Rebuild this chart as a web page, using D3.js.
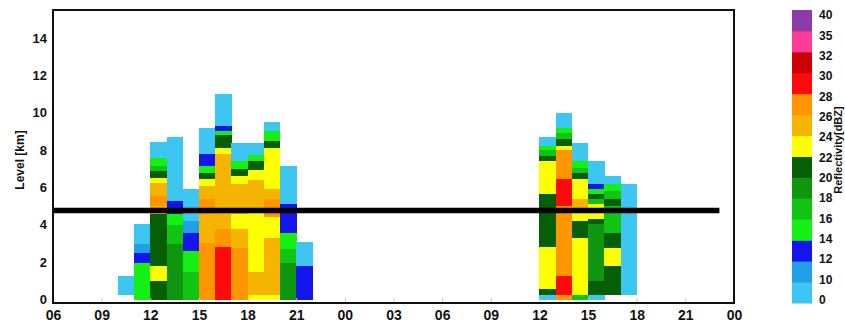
<!DOCTYPE html>
<html>
<head>
<meta charset="utf-8">
<script src="https://cdn.jsdelivr.net/npm/d3@7"></script>
<style>
  html, body { margin: 0; padding: 0; background: #fff; }
  svg { display: block; }
  text { font-family: "Liberation Sans", Arial, sans-serif; }
</style>
</head>
<body>
<svg id="chart" width="845" height="325"></svg>
<script>
// ---------- DATA ----------
// x axis: hours elapsed since 06 UTC of day 1
const xTickHours = [0, 3, 6, 9, 12, 15, 18, 21, 24, 27, 30, 33, 36, 39, 42];
const xTickLabels = ["06", "09", "12", "15", "18", "21", "00", "03", "06", "09", "12", "15", "18", "21", "00"];
const yTicks = [0, 2, 4, 6, 8, 10, 12, 14];

// colour classes of the reflectivity scale (dBZ)
const dbzBounds = [0, 10, 12, 14, 16, 18, 20, 22, 24, 26, 28, 30, 32, 35, 40];
const dbzColors = ["#3ec6f2", "#1f9fe8", "#1414ee", "#14f014", "#12c412", "#0e960e", "#065e06",
                   "#ffff00", "#f5b400", "#ff9600", "#ff0a0a", "#cc0000", "#ff3c96", "#8c3ca8"];

// hourly columns (start hour since 06 UTC day 1)
const day1Hours = [4, 5, 6, 7, 8, 9, 10, 11, 12, 13, 14, 15];
const day2Hours = [30, 31, 32, 33, 34, 35];

// each column: [bottom km, top km, dBZ]
const day1Profiles = [
  [[0.27, 1.24, 5]],
  [[0, 1.94, 15], [1.94, 2.48, 13], [2.48, 3.0, 11], [3.0, 4.05, 5]],
  [[0, 0.97, 21], [0.97, 1.78, 23], [1.78, 4.6, 21], [4.6, 5.0, 25], [5.0, 5.55, 27], [5.55, 6.25, 25],
   [6.25, 6.5, 23], [6.5, 6.9, 21], [6.9, 7.16, 17], [7.16, 7.56, 15], [7.56, 8.45, 5]],
  [[0, 3.0, 19], [3.0, 4.0, 17], [4.0, 4.6, 15], [4.6, 5.3, 13], [5.3, 8.67, 5]],
  [[0, 1.5, 17], [1.5, 2.6, 15], [2.6, 3.55, 13], [3.55, 4.2, 11], [4.2, 5.9, 5]],
  [[0, 3.05, 27], [3.05, 4.6, 25], [4.6, 5.4, 27], [5.4, 6.1, 25], [6.1, 6.45, 23], [6.45, 6.8, 21],
   [6.8, 7.16, 15], [7.16, 7.8, 13], [7.8, 9.2, 5]],
  [[0, 2.8, 29], [2.8, 3.8, 27], [3.8, 7.8, 25], [7.8, 8.1, 23], [8.1, 8.8, 21], [8.8, 9.05, 15],
   [9.05, 9.3, 13], [9.3, 11.0, 5]],
  [[0, 2.75, 27], [2.75, 3.8, 25], [3.8, 4.6, 23], [4.6, 6.2, 25], [6.2, 6.6, 23], [6.6, 7.0, 21],
   [7.0, 7.4, 15], [7.4, 8.4, 5]],
  [[0, 0.27, 23], [0.27, 1.5, 25], [1.5, 4.7, 23], [4.7, 6.4, 25], [6.4, 6.95, 23], [6.95, 7.4, 21],
   [7.4, 7.75, 15], [7.75, 8.4, 5]],
  [[0, 0.27, 23], [0.27, 3.3, 25], [3.3, 4.45, 23], [4.45, 5.4, 27], [5.4, 5.9, 25], [5.9, 8.1, 23],
   [8.1, 8.5, 21], [8.5, 9.05, 15], [9.05, 9.5, 5]],
  [[0, 1.94, 19], [1.94, 2.7, 17], [2.7, 3.55, 15], [3.55, 5.1, 13], [5.1, 7.16, 5]],
  [[0, 1.78, 13], [1.78, 3.05, 5]]
];
const day2Profiles = [
  [[0, 0.27, 5], [0.27, 0.55, 21], [0.55, 2.8, 23], [2.8, 5.65, 21], [5.65, 7.4, 23], [7.4, 7.7, 21],
   [7.7, 8.0, 17], [8.0, 8.25, 15], [8.25, 8.67, 5]],
  [[0, 0.27, 27], [0.27, 1.24, 29], [1.24, 5.0, 27], [5.0, 6.45, 29], [6.45, 8.0, 27], [8.0, 8.25, 23],
   [8.25, 8.6, 21], [8.6, 8.9, 17], [8.9, 9.2, 15], [9.2, 10.0, 5]],
  [[0, 0.27, 17], [0.27, 3.3, 23], [3.3, 4.2, 21], [4.2, 4.9, 23], [4.9, 5.4, 25], [5.4, 6.45, 23],
   [6.45, 6.8, 21], [6.8, 7.05, 17], [7.05, 7.4, 15], [7.4, 8.4, 5]],
  [[0, 0.27, 5], [0.27, 0.97, 21], [0.97, 4.04, 19], [4.04, 4.3, 21], [4.3, 5.1, 23], [5.1, 5.4, 17],
   [5.4, 5.65, 21], [5.65, 5.9, 15], [5.9, 6.2, 13], [6.2, 7.4, 5]],
  [[0.27, 1.78, 21], [1.78, 2.75, 23], [2.75, 3.55, 21], [3.55, 5.0, 17], [5.0, 5.4, 21], [5.4, 5.8, 17],
   [5.8, 6.2, 15], [6.2, 6.6, 5]],
  [[0.27, 6.2, 5]]
];

// horizontal reference level (km) and its extent in hours
const refLevel = [4.75];
const refExtent = [0, 41.1];

// ---------- LAYOUT ----------
const svg = d3.select("#chart");
const mLeft = 53, mRight = 734, mTop = 10, mBottom = 303;

const x = d3.scaleLinear().domain([0, 42]).range([mLeft, mRight]);
const y = d3.scaleLinear().domain([-0.2, 15.5]).range([mBottom, mTop]);
const color = d3.scaleThreshold().domain(dbzBounds.slice(1, -1)).range(dbzColors);

// cells
const cells = [];
day1Hours.forEach((h, i) => day1Profiles[i].forEach(s => cells.push({h, b: s[0], t: s[1], v: s[2]})));
day2Hours.forEach((h, i) => day2Profiles[i].forEach(s => cells.push({h, b: s[0], t: s[1], v: s[2]})));

svg.append("g").selectAll("rect").data(cells).join("rect")
  .attr("x", d => x(d.h))
  .attr("width", d => x(d.h + 1) - x(d.h) + 0.3)
  .attr("y", d => y(d.t))
  .attr("height", d => y(d.b) - y(d.t) + 0.3)
  .attr("fill", d => color(d.v))
  .attr("shape-rendering", "crispEdges");

// reference line
svg.append("g").selectAll("line").data(refLevel).join("line")
  .attr("x1", x(refExtent[0])).attr("x2", x(refExtent[1]))
  .attr("y1", d => y(d)).attr("y2", d => y(d))
  .attr("stroke", "#000").attr("stroke-width", 5.5);

// x axis
const xAxis = d3.axisBottom(x).tickValues(xTickHours)
  .tickFormat((d, i) => xTickLabels[i]).tickSizeInner(-5).tickSizeOuter(0).tickPadding(7);
const gx = svg.append("g").attr("transform", `translate(0,${mBottom})`).call(xAxis);
gx.select(".domain").remove();
gx.selectAll(".tick line").attr("stroke", "#c8c8c8");
gx.selectAll(".tick text").attr("font-size", 14).attr("font-weight", "bold").attr("fill", "#111")
  .attr("font-family", "'Liberation Sans', Arial, sans-serif");

// y axis
const yAxis = d3.axisLeft(y).tickValues(yTicks).tickSize(0).tickPadding(6);
const gy = svg.append("g").attr("transform", `translate(${mLeft},0)`).call(yAxis);
gy.select(".domain").remove();
gy.selectAll(".tick text").attr("font-size", 13).attr("font-weight", "bold").attr("fill", "#111")
  .attr("font-family", "'Liberation Sans', Arial, sans-serif");

// frame
svg.append("rect").attr("x", mLeft).attr("y", mTop).attr("width", mRight - mLeft).attr("height", mBottom - mTop)
  .attr("fill", "none").attr("stroke", "#111").attr("stroke-width", 2);

// y label
svg.append("text").attr("transform", `translate(24,160) rotate(-90)`)
  .attr("text-anchor", "middle").attr("font-size", 12).attr("font-weight", "bold").attr("fill", "#111")
  .text("Level [km]");

// ---------- COLOUR BAR ----------
const cbX = 792, cbW = 20, cbTop = 10, cbBottom = 303;
const cbScale = d3.scaleBand().domain(d3.range(dbzColors.length)).range([cbBottom, cbTop]).paddingInner(0);
svg.append("g").selectAll("rect").data(dbzColors).join("rect")
  .attr("x", cbX).attr("width", cbW)
  .attr("y", (d, i) => cbScale(i)).attr("height", cbScale.bandwidth() + 0.5)
  .attr("fill", d => d);

const cbLabelY = d3.scaleLinear().domain([0, dbzBounds.length - 1]).range([300, 15]);
svg.append("g").selectAll("text").data(dbzBounds).join("text")
  .attr("x", 819).attr("y", (d, i) => cbLabelY(i)).attr("dy", "0.35em")
  .attr("font-size", 12).attr("font-weight", "bold").attr("fill", "#111")
  .text(d => d);

svg.append("text").attr("transform", `translate(842,150) rotate(-90)`)
  .attr("text-anchor", "middle").attr("font-size", 11).attr("font-weight", "bold").attr("fill", "#111")
  .text("Reflectivity[dBZ]");
</script>
</body>
</html>
